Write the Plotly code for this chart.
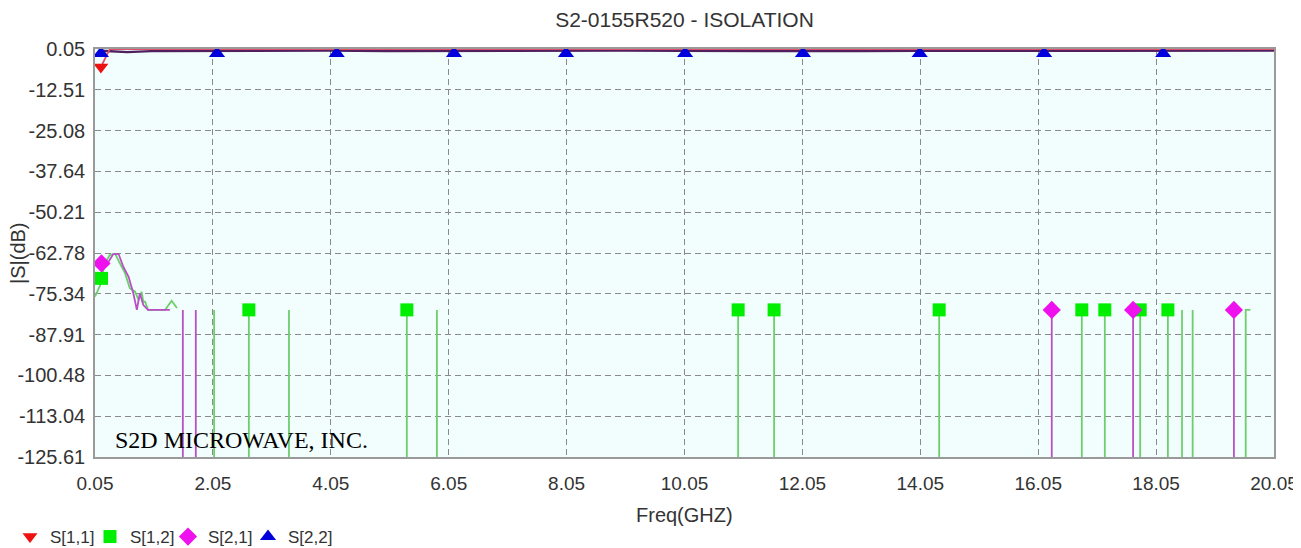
import plotly.graph_objects as go

# ---------------- data ----------------
x_ticks = [0.05, 2.05, 4.05, 6.05, 8.05, 10.05, 12.05, 14.05, 16.05, 18.05, 20.05]
y_ticks = [0.05, -12.51, -25.08, -37.64, -50.21, -62.78, -75.34, -87.91, -100.48, -113.04, -125.61]
y_tick_text = ["0.05", "-12.51", "-25.08", "-37.64", "-50.21", "-62.78", "-75.34",
               "-87.91", "-100.48", "-113.04", "-125.61"]

# S[1,1] (return loss, near 0 dB)
s11_freq = [0.15, 0.30, 0.60, 1.0, 2.0, 3.0, 4.0, 5.0, 6.0, 7.0, 8.0, 9.0, 10.0,
            11.0, 12.0, 13.0, 14.0, 15.0, 16.0, 17.0, 18.0, 19.0, 20.05]
s11_db = [-5.5, 0.0, 0.0, 0.0, 0.0, 0.0, 0.0, 0.0, 0.0, 0.0, 0.0, 0.0, 0.0,
          0.0, 0.0, 0.0, 0.0, 0.0, 0.0, 0.0, 0.0, 0.0, 0.0]
s11_mk_freq = [0.15]
s11_mk_db = [-5.5]

# S[2,2]
s22_freq = [0.15, 0.30, 0.60, 1.0, 2.0, 3.0, 4.0, 5.0, 6.0, 7.0, 8.0, 9.0, 10.0,
            11.0, 12.0, 13.0, 14.0, 15.0, 16.0, 17.0, 18.0, 19.0, 20.05]
s22_db = [-0.5, -0.6, -0.9, -0.6, -0.5, -0.5, -0.4, -0.6, -0.5, -0.4, -0.5, -0.4, -0.5,
          -0.6, -0.5, -0.6, -0.5, -0.4, -0.5, -0.5, -0.4, -0.4, -0.4]
s22_mk_freq = [0.15, 2.12, 4.15, 6.14, 8.04, 10.06, 12.06, 14.04, 16.15, 18.17]
s22_mk_db = [-1.3, -1.3, -1.3, -1.3, -1.3, -1.3, -1.3, -1.3, -1.3, -1.3]

# S[1,2] (isolation) - None separates segments, -200 lies below the visible range
s12_freq = [0.05, 0.14, 0.16, 0.22, 0.30, 0.39, 0.47, 0.56, 0.64, 0.73, 0.79, 0.84,
            0.87, 0.90, 0.95, 1.04, 1.24, 1.35, 1.44, None,
            2.07, 2.07, None, 2.66, 2.66, None, 3.34, 3.34, None,
            5.34, 5.34, None, 5.85, 5.85, None, 10.96, 10.96, None,
            11.57, 11.57, None, 14.37, 14.37, None, 16.79, 16.79, None,
            17.18, 17.18, None, 17.78, 17.78, None, 18.25, 18.25, None,
            18.49, 18.49, None, 18.67, 18.67, None, 19.57, 19.57, 19.65]
s12_db = [-76.2, -72.6, -70.6, -65.9, -63.4, -63.0, -65.9, -69.0, -73.6, -74.7, -77.3, -74.7,
          -77.8, -77.8, -80.3, -80.3, -80.3, -77.5, -79.7, None,
          -80.3, -200, None, -80.3, -200, None, -80.3, -200, None,
          -80.3, -200, None, -80.3, -200, None, -80.3, -200, None,
          -80.3, -200, None, -80.3, -200, None, -80.3, -200, None,
          -80.3, -200, None, -80.3, -200, None, -80.3, -200, None,
          -80.3, -200, None, -80.3, -200, None, -200, -80.3, -80.3]
s12_mk_freq = [0.16, 2.66, 5.34, 10.96, 11.57, 14.37, 16.79, 17.18, 17.78, 18.25]
s12_mk_db = [-70.6, -80.3, -80.3, -80.3, -80.3, -80.3, -80.3, -80.3, -80.3, -80.3]

# S[2,1]
s21_freq = [0.16, 0.28, 0.36, 0.45, 0.53, 0.62, 0.70, 0.76, 0.81, 0.87, 0.95, 1.32, None,
            1.54, 1.54, None, 1.76, 1.76, None, 16.28, 16.28, None,
            17.66, 17.66, None, 19.37, 19.37]
s21_db = [-66.0, -65.5, -63.1, -63.1, -67.0, -70.1, -75.2, -80.3, -75.2, -78.8, -80.3, -80.3, None,
          -80.3, -200, None, -80.3, -200, None, -80.3, -200, None,
          -80.3, -200, None, -80.3, -200]
s21_mk_freq = [0.16, 16.28, 17.66, 19.37]
s21_mk_db = [-66.0, -80.3, -80.3, -80.3]

# ---------------- figure ----------------
GREEN_LINE = "#6ccf6c"
MAG_LINE = "#b94fc4"
TXT = "#333333"
FONT = "Liberation Sans"
FIG_W, FIG_H = 1301, 540

fig = go.Figure()

fig.add_trace(go.Scatter(x=s12_freq, y=s12_db, mode="lines", connectgaps=False,
                         line=dict(color=GREEN_LINE, width=1.8), showlegend=False, hoverinfo="skip"))
fig.add_trace(go.Scatter(x=s21_freq, y=s21_db, mode="lines", connectgaps=False,
                         line=dict(color=MAG_LINE, width=1.8), showlegend=False, hoverinfo="skip"))
fig.add_trace(go.Scatter(x=s22_freq, y=s22_db, mode="lines",
                         line=dict(color="#4f1f5e", width=2.4), showlegend=False, hoverinfo="skip"))
fig.add_trace(go.Scatter(x=s11_freq, y=s11_db, mode="lines",
                         line=dict(color="#e0506a", width=1.8), showlegend=False, hoverinfo="skip"))

fig.add_trace(go.Scatter(x=s11_mk_freq, y=s11_mk_db, mode="markers", name="S[1,1]", legend="legend",
                         marker=dict(symbol="triangle-down", size=13, color="#ee1111")))
fig.add_trace(go.Scatter(x=s12_mk_freq, y=s12_mk_db, mode="markers", name="S[1,2]", legend="legend2",
                         marker=dict(symbol="square", size=13, color="#00ee00")))
fig.add_trace(go.Scatter(x=s21_mk_freq, y=s21_mk_db, mode="markers", name="S[2,1]", legend="legend3",
                         marker=dict(symbol="diamond", size=14, color="#ee11ee")))
fig.add_trace(go.Scatter(x=s22_mk_freq, y=s22_mk_db, mode="markers", name="S[2,2]", legend="legend4",
                         marker=dict(symbol="triangle-up", size=14, color="#0000dd")))

fig.add_annotation(x=0, y=0, xref="paper", yref="paper", xanchor="left", yanchor="bottom",
                   xshift=18, yshift=2, showarrow=False,
                   text="S2D MICROWAVE, INC.",
                   font=dict(family="Liberation Serif", size=24, color="#000000"))
# axis titles
fig.add_annotation(x=-0.0653, y=0.5, xref="paper", yref="paper", xanchor="center", yanchor="middle",
                   showarrow=False, text="|S|(dB)", textangle=-90,
                   font=dict(family=FONT, size=20, color=TXT))
fig.add_annotation(x=0.5, y=-0.142, xref="paper", yref="paper", xanchor="center", yanchor="middle",
                   showarrow=False, text="Freq(GHZ)",
                   font=dict(family=FONT, size=20, color=TXT))

grid = dict(showgrid=True, gridcolor="#8a8a8a", gridwidth=1, griddash="6px,4px",
            zeroline=False, showline=True, linecolor="#9a9a9a", linewidth=1.5, mirror=True,
            automargin=False)


def leg(x_px):
    return dict(orientation="h", xref="container", yref="container",
                x=x_px / FIG_W, xanchor="left", y=1 - 529 / FIG_H, yanchor="middle",
                font=dict(family=FONT, size=17, color=TXT), bgcolor="rgba(0,0,0,0)")


# the page body adds an 8px offset; positions below are in figure pixels (page - 8)
fig.update_layout(
    width=FIG_W, height=FIG_H,
    margin=dict(l=87, r=FIG_W - 87 - 1179, t=41, b=FIG_H - 41 - 408, autoexpand=False),
    paper_bgcolor="#ffffff",
    plot_bgcolor="#f2fdfd",
    title=dict(text="S2-0155R520 - ISOLATION", x=0.5, xref="paper", xanchor="center",
               y=1 - 12 / FIG_H, yanchor="middle",
               font=dict(family=FONT, size=21, color=TXT)),
    font=dict(family=FONT, color=TXT),
    legend=leg(2),
    legend2=leg(82),
    legend3=leg(160),
    legend4=leg(240),
    xaxis=dict(range=[0.05, 20.05], tickmode="array", tickvals=x_ticks,
               ticktext=[f"{v:.2f}" for v in x_ticks],
               ticks="outside", ticklen=8, tickcolor="rgba(0,0,0,0)",
               ticklabeloverflow="allow",
               tickfont=dict(family=FONT, size=19, color=TXT),
               **grid),
    yaxis=dict(range=[-125.61, 0.05], tickmode="array", tickvals=y_ticks, ticktext=y_tick_text,
               ticks="outside", ticklen=4, tickcolor="rgba(0,0,0,0)",
               tickfont=dict(family=FONT, size=20, color=TXT),
               **grid),
)

fig.write_html("out.html")
